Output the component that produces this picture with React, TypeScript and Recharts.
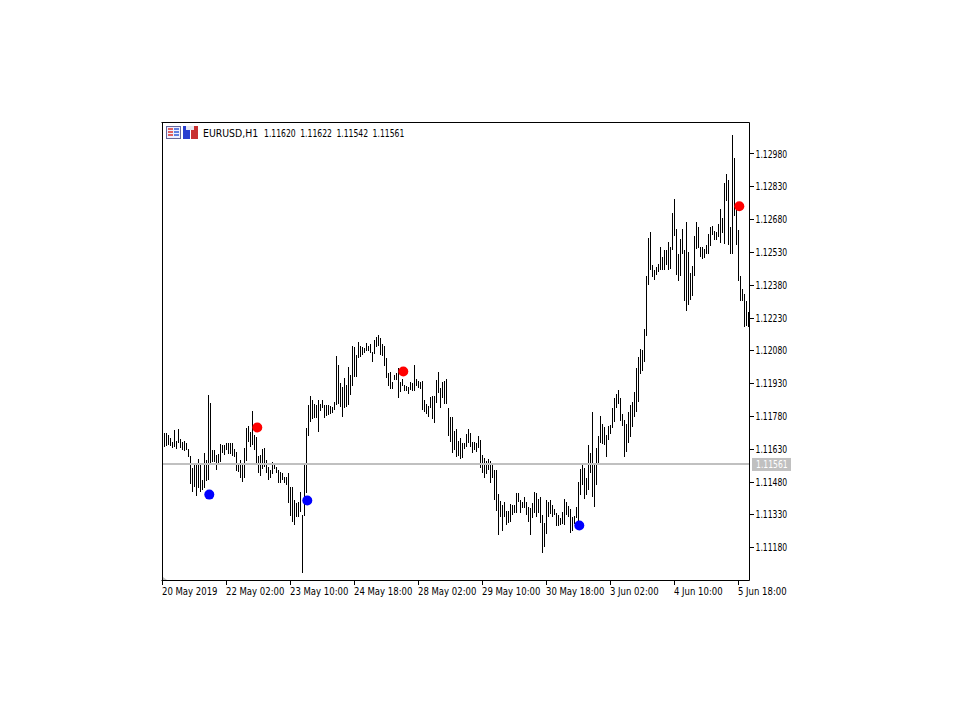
import { ComposedChart, Bar, Line, XAxis, YAxis, ReferenceLine } from "recharts";

// prices in points (1 point = 0.00001), one entry per H1 bar
const highs = [
  111704, 111704, 111704, 111695, 111681, 111663, 111718, 111667, 111723, 111677,
  111663, 111667, 111658, 111631, 111600, 111544, 111563, 111558, 111585, 111558,
  111489, 111613, 111581, 111878, 111841, 111627, 111627, 111604, 111609, 111654,
  111649, 111649, 111658, 111658, 111658, 111658, 111631, 111618, 111567, 111581,
  111558, 111635, 111727, 111736, 111709, 111805, 111695, 111686, 111600, 111604,
  111631, 111635, 111581, 111549, 111535, 111572, 111567, 111549, 111535, 111526,
  111521, 111503, 111503, 111521, 111457, 111457, 111398, 111384, 111389, 111435,
  111329, 111567, 111727, 111832, 111873, 111855, 111837, 111832, 111855, 111837,
  111855, 111832, 111832, 111832, 111827, 111823, 111846, 112056, 112015, 111933,
  111914, 111956, 111924, 112006, 111970, 112102, 112098, 112061, 112121, 112102,
  112098, 112093, 112116, 112102, 112111, 112075, 112130, 112143, 112152, 112139,
  112111, 112102, 112047, 111978, 111983, 111938, 111970, 111978, 112001, 111938,
  111951, 111924, 111919, 111914, 111938, 111933, 112015, 111951, 111942, 111938,
  111942, 111855, 111837, 111827, 111869, 111873, 111873, 111947, 111983, 111910,
  111938, 111942, 111951, 111818, 111778, 111778, 111713, 111723, 111667, 111681,
  111658, 111658, 111700, 111723, 111704, 111663, 111663, 111658, 111690, 111672,
  111604, 111590, 111576, 111585, 111576, 111567, 111535, 111535, 111425, 111393,
  111375, 111389, 111347, 111347, 111380, 111375, 111375, 111430, 111430, 111398,
  111389, 111412, 111389, 111366, 111361, 111384, 111435, 111430, 111403, 111412,
  111329, 111293, 111398, 111389, 111398, 111375, 111357, 111338, 111329, 111316,
  111343, 111403, 111389, 111370, 111357, 111320, 111325, 111366, 111480, 111540,
  111563, 111544, 111498, 111649, 111613, 111801, 111567, 111635, 111690, 111782,
  111746, 111732, 111695, 111736, 111741, 111818, 111864, 111882, 111901, 111864,
  111791, 111764, 111746, 111801, 111832, 111846, 111892, 112001, 112052, 112089,
  112084, 112180, 112422, 112596, 112623, 112473, 112450, 112463, 112477, 112555,
  112509, 112541, 112541, 112578, 112555, 112711, 112774, 112637, 112523, 112591,
  112637, 112541, 112669, 112532, 112436, 112468, 112605, 112669, 112646, 112555,
  112555, 112546, 112564, 112614, 112646, 112651, 112628, 112623, 112660, 112729,
  112687, 112848, 112889, 112861, 112646, 113067, 112962, 112724, 112633, 112422,
  112363, 112340, 112308, 112258,
];
const lows = [
  111640, 111640, 111645, 111649, 111645, 111635, 111640, 111631, 111658, 111635,
  111627, 111622, 111627, 111595, 111471, 111435, 111457, 111417, 111452, 111435,
  111444, 111452, 111484, 111489, 111567, 111572, 111572, 111535, 111567, 111572,
  111613, 111604, 111627, 111609, 111609, 111600, 111595, 111530, 111526, 111498,
  111480, 111498, 111576, 111663, 111640, 111649, 111627, 111567, 111521, 111507,
  111540, 111549, 111521, 111489, 111498, 111517, 111540, 111521, 111475, 111475,
  111489, 111475, 111466, 111384, 111325, 111298, 111284, 111320, 111320, 111343,
  111064, 111325, 111430, 111690, 111755, 111769, 111773, 111773, 111709, 111805,
  111818, 111773, 111782, 111787, 111791, 111796, 111810, 111832, 111837, 111823,
  111778, 111818, 111823, 111832, 111878, 111919, 111961, 111961, 112047, 112052,
  112061, 112070, 112079, 112079, 112070, 112029, 112066, 112098, 112102, 112061,
  112056, 112010, 111956, 111919, 111905, 111905, 111947, 111947, 111864, 111892,
  111919, 111896, 111896, 111882, 111901, 111896, 111896, 111919, 111910, 111905,
  111810, 111801, 111791, 111778, 111818, 111769, 111750, 111841, 111887, 111818,
  111864, 111837, 111837, 111690, 111663, 111613, 111627, 111595, 111600, 111585,
  111590, 111631, 111640, 111658, 111640, 111613, 111627, 111618, 111635, 111544,
  111521, 111498, 111517, 111535, 111475, 111498, 111398, 111347, 111238, 111320,
  111256, 111320, 111284, 111293, 111298, 111329, 111338, 111338, 111389, 111338,
  111361, 111361, 111329, 111298, 111238, 111316, 111338, 111320, 111338, 111293,
  111155, 111183, 111243, 111320, 111334, 111320, 111329, 111279, 111279, 111284,
  111288, 111284, 111329, 111320, 111247, 111256, 111288, 111316, 111298, 111421,
  111466, 111403, 111421, 111444, 111521, 111412, 111366, 111466, 111567, 111658,
  111654, 111649, 111595, 111672, 111700, 111727, 111755, 111818, 111837, 111759,
  111736, 111595, 111618, 111658, 111686, 111732, 111778, 111801, 111846, 111974,
  111988, 112029, 112148, 112381, 112450, 112418, 112404, 112427, 112441, 112450,
  112450, 112450, 112473, 112450, 112454, 112541, 112605, 112427, 112399, 112422,
  112523, 112308, 112262, 112289, 112312, 112330, 112422, 112546, 112550, 112509,
  112500, 112505, 112523, 112523, 112559, 112610, 112587, 112587, 112601, 112573,
  112619, 112569, 112765, 112564, 112523, 112523, 112696, 112564, 112399, 112308,
  112308, 112189, 112194, 112189,
];

// signals: bar index and price
const buyBars = [23, 72, 208];
const buyPrices = [111425, 111398, 111284];
const sellBars = [47, 120, 288];
const sellPrices = [111732, 111988, 112743];

const tickBars = [0, 32, 64, 96, 128, 160, 192, 224, 256, 288];
const tickLabels = [
  "20 May 2019", "22 May 02:00", "23 May 10:00", "24 May 18:00", "28 May 02:00",
  "29 May 10:00", "30 May 18:00", "3 Jun 02:00", "4 Jun 10:00", "5 Jun 18:00",
];
const priceTicks = [
  111180, 111330, 111480, 111630, 111780, 111930, 112080, 112230, 112380, 112530,
  112680, 112830, 112980,
];
const SYMBOL = "EURUSD,H1";
const ohlc = [111620, 111622, 111542, 111561];
const LAST_PRICE = 111561;
const Y_MIN = 111030;
const Y_MAX = 113124;

const fmt = (v: number) => (v / 100000).toFixed(5);

const data = highs.map((h, i) => ({
  i,
  range: [lows[i], h],
  buy: buyBars.includes(i) ? buyPrices[buyBars.indexOf(i)] : null,
  sell: sellBars.includes(i) ? sellPrices[sellBars.indexOf(i)] : null,
}));

// no Tahoma here, so squeeze DejaVu Condensed sideways to the same metrics
function Label(props: { x: number; y: number; sx?: number; fill?: string; children: any }) {
  const { x, y, sx = 1, fill = "#000", children } = props;
  return (
    <text
      transform={`translate(${x} ${y}) scale(${sx} 1)`}
      fontFamily="'DejaVu Sans Condensed', 'DejaVu Sans', sans-serif"
      fontSize={10.4}
      fill={fill}
    >
      {children}
    </text>
  );
}

// thin high-low stick, snapped to whole pixels like the terminal draws it
function Stick(props: any) {
  const top = Math.round(props.y);
  const bottom = Math.round(props.y + props.height);
  return <rect x={Math.floor(props.x)} y={top} width={1} height={Math.max(bottom - top, 1)} fill="#000" />;
}

function signalDot(color: string) {
  return (props: any) =>
    props.value == null ? (
      <g key={props.index} />
    ) : (
      <circle key={props.index} cx={props.cx + 0.8} cy={props.cy + 0.5} r={5} fill={color} />
    );
}

function TimeTick(props: any) {
  return (
    <Label x={props.x - 0.5} y={props.y + 8.5} sx={0.91}>
      {tickLabels[tickBars.indexOf(props.payload.value)]}
    </Label>
  );
}

function PriceTick(props: any) {
  return (
    <Label x={props.x} y={props.y + 3.6} sx={0.82}>
      {fmt(props.payload.value)}
    </Label>
  );
}

function PriceTag(props: any) {
  const y = props.viewBox.y;
  const x = props.viewBox.x + props.viewBox.width;
  return (
    <g>
      <rect x={x + 2.5} y={y - 6.4} width={39} height={13} fill="#c0c0c0" />
      <Label x={x + 6.5} y={y + 3.6} sx={0.82} fill="#fff">
        {fmt(LAST_PRICE)}
      </Label>
    </g>
  );
}

function Overlay() {
  return (
    <svg width={960} height={720} style={{ position: "absolute", left: 0, top: 0, pointerEvents: "none" }}>
      {/* toolbar icons */}
      <rect x={166.5} y={126.5} width={14} height={12} fill="#eef" stroke="#66669a" />
      <rect x={168} y={128} width={5} height={2} fill="#e06060" />
      <rect x={168} y={131} width={5} height={2} fill="#e06060" />
      <rect x={168} y={134} width={5} height={2} fill="#e06060" />
      <rect x={174} y={128} width={5} height={2} fill="#6080e0" />
      <rect x={174} y={131} width={5} height={2} fill="#6080e0" />
      <rect x={174} y={134} width={5} height={2} fill="#6080e0" />
      <rect x={183} y={126} width={7} height={13} fill="#2a3fd0" />
      <rect x={191} y={126} width={7} height={13} fill="#c83030" />
      <rect x={186} y={126} width={8} height={4} fill="#e8e8f0" />
      <polygon points="163,577 163,580 167,580" fill="#c0c0c0" />
      <Label x={203} y={136.5}>{SYMBOL}</Label>
      {ohlc.map((v, k) => (
        <Label key={k} x={264 + k * 36.2} y={136.5} sx={0.82}>
          {fmt(v)}
        </Label>
      ))}
    </svg>
  );
}

export default function App() {
  return (
    <div style={{ position: "absolute", left: 0, top: 0, width: 960, height: 720, background: "#fff" }}>
      <ComposedChart
        width={960}
        height={720}
        data={data}
        margin={{ top: 122.5, left: 161.5, right: 160.5, bottom: 119.5 }}
      >
        <XAxis
          dataKey="i"
          ticks={tickBars}
          interval={0}
          height={20}
          tickSize={4}
          axisLine={{ stroke: "#000" }}
          tickLine={{ stroke: "#000", shapeRendering: "crispEdges" }}
          tick={TimeTick}
        />
        <YAxis
          orientation="right"
          domain={[Y_MIN, Y_MAX]}
          ticks={priceTicks}
          interval={0}
          width={50}
          tickSize={4}
          tickMargin={2}
          axisLine={{ stroke: "#000" }}
          tickLine={{ stroke: "#000", shapeRendering: "crispEdges" }}
          tick={PriceTick}
        />
        <ReferenceLine
          y={LAST_PRICE}
          stroke="#c0c0c0"
          strokeWidth={2}
          shapeRendering="crispEdges"
          label={PriceTag}
        />
        <Bar dataKey="range" barSize={1} isAnimationActive={false} shape={Stick} />
        <ReferenceLine y={Y_MAX} stroke="#000" />
        <ReferenceLine x={0} stroke="#000" />
        <Line
          dataKey="buy"
          stroke="none"
          isAnimationActive={false}
          dot={signalDot("#0000ff")}
          activeDot={false}
        />
        <Line
          dataKey="sell"
          stroke="none"
          isAnimationActive={false}
          dot={signalDot("#ff0000")}
          activeDot={false}
        />
      </ComposedChart>
      <Overlay />
    </div>
  );
}
